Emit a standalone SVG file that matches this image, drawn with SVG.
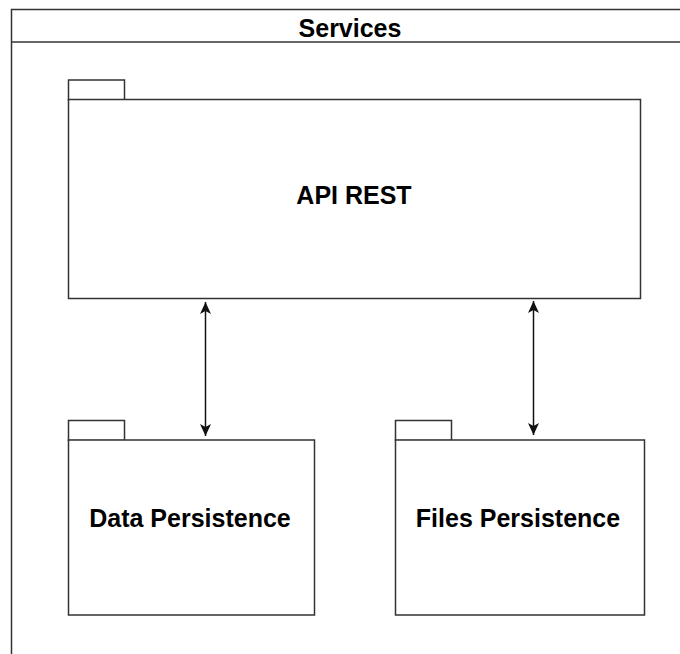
<svg xmlns="http://www.w3.org/2000/svg" width="680" height="654" viewBox="0 0 680 654">
<style>
.shape{fill:#ffffff;stroke:#333333;stroke-width:1.5}
.lbl{font-family:"Liberation Sans",Arial,sans-serif;font-weight:bold;font-size:25px;fill:#000000;text-anchor:middle}
.conn{stroke:#111111;stroke-width:1.5;fill:none}
</style>
<defs>
<marker id="arr" markerUnits="userSpaceOnUse" markerWidth="14" markerHeight="14" refX="12" refY="6" orient="auto-start-reverse" viewBox="0 0 14 12">
<path d="M0,0.5 L12,6 L0,11.5 L3,6 Z" fill="#111111"/>
</marker>
</defs>
<rect width="680" height="654" fill="#ffffff"/>
<g id="services">
<rect class="shape" x="11.5" y="9.5" width="700" height="700"/>
<line class="shape" x1="11.5" y1="42" x2="700" y2="42"/>
<text class="lbl" x="350" y="36.5">Services</text>
</g>
<g id="api-rest">
<rect class="shape" x="68.5" y="80" width="56" height="20"/>
<rect class="shape" x="68.5" y="99.5" width="572" height="199"/>
<text class="lbl" x="354" y="204">API REST</text>
</g>
<g id="data-persistence">
<rect class="shape" x="68.5" y="420.5" width="56" height="20"/>
<rect class="shape" x="68.5" y="440" width="246" height="175"/>
<text class="lbl" x="190" y="526.5">Data Persistence</text>
</g>
<g id="files-persistence">
<rect class="shape" x="395.5" y="420.5" width="56" height="20"/>
<rect class="shape" x="395.5" y="440" width="249" height="175"/>
<text class="lbl" x="518" y="526.5">Files Persistence</text>
</g>
<g id="connectors">
<line class="conn" x1="205.5" y1="302" x2="205.5" y2="436" marker-start="url(#arr)" marker-end="url(#arr)"/>
<line class="conn" x1="533.5" y1="301" x2="533.5" y2="435" marker-start="url(#arr)" marker-end="url(#arr)"/>
</g>
</svg>
